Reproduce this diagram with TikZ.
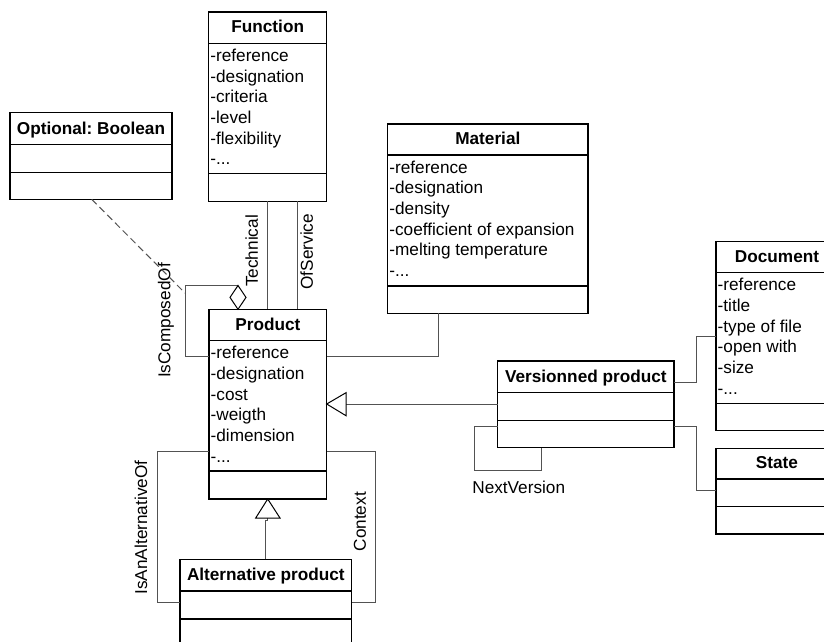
\documentclass[tikz,border=0pt]{standalone}
\usepackage{fontspec}
\setmainfont{Liberation Sans}
\frenchspacing
\newcommand\fs{\fontsize{17.2}{20.7}\selectfont}
\newcommand\tdots{.{}.{}.}
\tikzset{
 box/.style={draw=black, line width=1.3pt, fill=white, inner sep=0pt, outer sep=0pt, anchor=north west},
 sepline/.style={draw=black, line width=1.3pt},
 conn/.style={draw=black!68, line width=1pt},
 ttl/.style={font=\fs\bfseries, inner sep=0pt, anchor=base},
 attr/.style={font=\fs, inner sep=0pt, anchor=base west},
 lbl/.style={font=\fs, inner sep=0pt},
 headtri/.style={draw=black, line width=1pt, fill=white, line join=miter},
}
\newcommand\umlclass[8]{%
 \node[box, minimum width={#4-#2}, minimum height={#5-#3}] (#1) at (#2,#3) {};
 \draw[sepline] (#2,#6) -- (#4,#6);
 \draw[sepline] (#2,#7) -- (#4,#7);
 \node[ttl] (#1-t) at ({(#2+#4)/2},{#6-10.3}) {#8};
}
\newcommand\umlattrs[4]{%
 \foreach \attrtext [count=\i from 0] in {#4} {\node[attr] (#1-a\i) at (#2+1.5, #3+18+\i*20.7) {\attrtext};}
}
\begin{document}
\begin{tikzpicture}[x=1pt, y=-1pt]
\useasboundingbox (0,0) rectangle (824,642);
\clip (0,0) rectangle (824,642);
\fill[white] (0,0) rectangle (824,642);

% classes
\umlclass{opt}{10}{112.7}{172}{199.3}{144.7}{172.7}{Optional: Boolean}
\umlclass{func}{208.7}{12}{326.7}{201.3}{43.3}{173.3}{Function}
\umlattrs{func}{208.7}{43.3}{-reference,-designation,-criteria,-level,-flexibility,-\tdots}
\umlclass{mat}{387.7}{124}{588}{313.3}{155}{286}{Material}
\umlattrs{mat}{387.7}{155}{-reference,-designation,-density,-coefficient of expansion,-melting temperature,-\tdots}
\umlclass{prod}{209}{309.3}{326.7}{499}{340.7}{471}{Product}
\umlattrs{prod}{209}{340.7}{-reference,-designation,-cost,-weigth,-dimension,-\tdots}
\umlclass{alt}{180}{559.3}{351.7}{650}{591}{619}{Alternative product}
\umlclass{ver}{497.7}{361}{674}{447.7}{392.7}{420.7}{Versionned product}
\umlclass{doc}{716}{241.7}{838}{430.7}{272.7}{403.3}{Document}
\umlattrs{doc}{716}{272.7}{-reference,-title,-type of file,-open with,-size,-\tdots}
\umlclass{state}{716}{448.3}{838}{534}{479}{506.7}{State}

% connectors
\draw[conn] (267.3,0 |- func.south) -- (267.3,0 |- prod.north);
\draw[conn] (297,0 |- func.south) -- (297,0 |- prod.north);
\node[lbl, rotate=90] (ltech) at (251.7,251) {Technical};
\node[lbl, rotate=90] (lserv) at (306.7,251.7) {OfService};

% IsComposedOf self association with aggregation diamond
\coordinate (dtop) at (238,285.5);
\draw[conn] (prod.west |- 0,356.7) -- (185,356.7) -- (185,285.5) -- (dtop);
\draw[headtri] (dtop) -- (246,297.4) -- (238,0 |- prod.north) -- (230,297.4) -- cycle;
\node[lbl, rotate=90] (lcomp) at (166,320.5) {IsComposedOf};
\coordinate (cmp) at (185,293);
\draw[conn, dash pattern=on 7pt off 4pt] (91.7,0 |- opt.south) -- (cmp);

% Product - Material
\draw[conn] (prod.east |- 0,356.7) -- (438.3,356.7) -- (438.3,0 |- mat.south);

% Versionned product generalization
\draw[conn] (ver.west |- 0,404) -- (346,404);
\draw[headtri] (prod.east |- 0,404) -- (346,392.7) -- (346,415.7) -- cycle;

% NextVersion
\draw[conn] (ver.west |- 0,426) -- (474.3,426) -- (474.3,470.7) -- (541.7,470.7) -- (541.7,0 |- ver.south);
\node[lbl] (lnext) at (518.7,487.5) {NextVersion};

% Versionned - Document / State
\draw[conn] (ver.east |- 0,382.3) -- (696.7,382.3) -- (696.7,336) -- (doc.west |- 0,336);
\draw[conn] (ver.east |- 0,426) -- (696.7,426) -- (696.7,490.7) -- (state.west |- 0,490.7);

% Alternative product generalization
\draw[conn] (alt.north -| 265.7,0) -- (265.7,520) -- (267.7,520) -- (267.7,518);
\draw[headtri] (267.7,0 |- prod.south) -- (280,518) -- (255.7,518) -- cycle;

% IsAnAlternativeOf / Context
\draw[conn] (prod.west |- 0,451.7) -- (157.3,451.7) -- (157.3,602.3) -- (alt.west |- 0,602.3);
\node[lbl, rotate=90] (lalt) at (141,527.5) {IsAnAlternativeOf};
\draw[conn] (prod.east |- 0,451.7) -- (375,451.7) -- (375,602.3) -- (alt.east |- 0,602.3);
\node[lbl, rotate=90] (lctx) at (360,521.7) {Context};
\end{tikzpicture}
\end{document}
